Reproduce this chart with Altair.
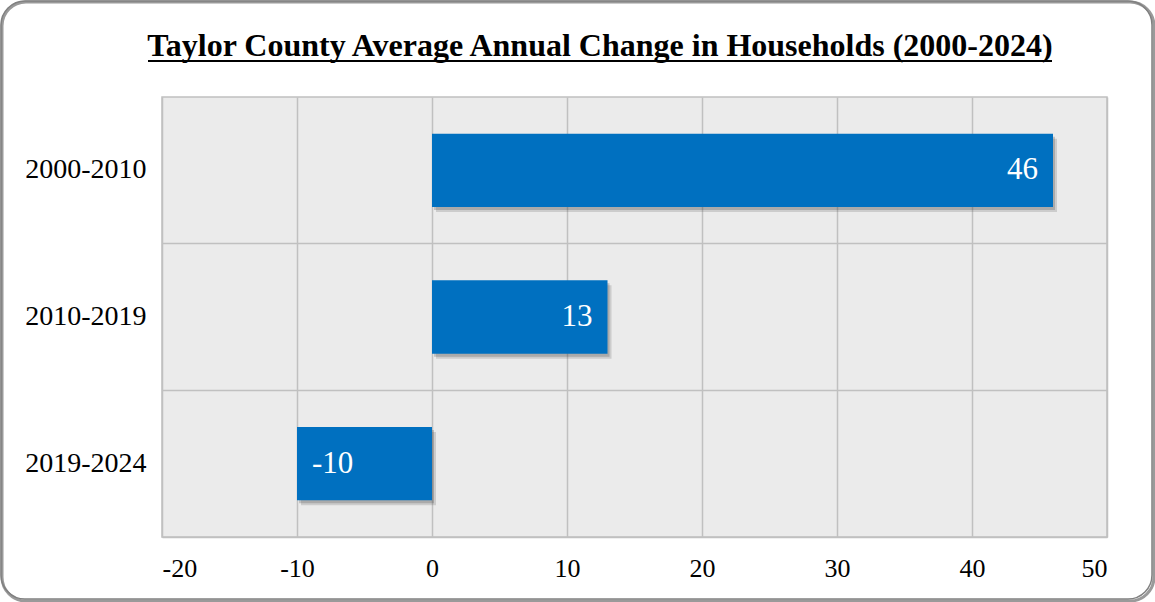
import altair as alt
import pandas as pd

periods = ["2000-2010", "2010-2019", "2019-2024"]
values = [46, 13, -10]
title_text = "Taylor County Average Annual Change in Households (2000-2024)"

df = pd.DataFrame({"period": periods, "value": values})
df["label"] = df["value"].astype(str)

W, H = 945, 440
FONT = "Liberation Serif"

x_enc = alt.X("value:Q", scale=alt.Scale(domain=[-20, 50], nice=False),
              axis=alt.Axis(values=list(range(-20, 51, 10)), title=None, grid=True,
                            gridColor="#c0c0c0", gridWidth=1.5, domain=False, ticks=False,
                            labelExpr="'' + datum.value",
                            labelFont=FONT, labelFontSize=26, labelColor="#000000",
                            labelPadding=18))
y_enc = alt.Y("period:N", sort=periods,
              scale=alt.Scale(paddingInner=0.5, paddingOuter=0.25),
              axis=alt.Axis(title=None, grid=True, bandPosition=1.5, gridColor="#c0c0c0",
                            gridWidth=1.5, domain=False, ticks=False,
                            labelFont=FONT, labelFontSize=28, labelColor="#000000",
                            labelPadding=16))

base = alt.Chart(df)

shadow1 = base.mark_bar(color="#444444", opacity=0.18, xOffset=4, yOffset=5).encode(
    x=x_enc, y=y_enc)
shadow2 = base.mark_bar(color="#444444", opacity=0.25, xOffset=2, yOffset=3).encode(
    x=x_enc, y=y_enc)
bars = base.mark_bar(color="#0070c0").encode(x=x_enc, y=y_enc)

pos_text = base.transform_filter("datum.value >= 0").mark_text(
    align="right", baseline="middle", dx=-15, color="white", font=FONT, fontSize=31
).encode(x="value:Q", y=alt.Y("period:N", sort=periods), text="label:N")
neg_text = base.transform_filter("datum.value < 0").mark_text(
    align="left", baseline="middle", dx=15, color="white", font=FONT, fontSize=31
).encode(x="value:Q", y=alt.Y("period:N", sort=periods), text="label:N")

title_df = pd.DataFrame({"t": [title_text]})
title = alt.Chart(title_df).mark_text(
    align="center", baseline="alphabetic", font=FONT, fontSize=32, fontWeight="bold",
    color="#000000"
).encode(x=alt.value(600 - 162), y=alt.value(56 - 97), text="t:N")
underline = alt.Chart(title_df).mark_rule(color="#000000", strokeWidth=2).encode(
    x=alt.value(148 - 162), x2=alt.value(1052 - 162), y=alt.value(61 - 97))

frame_shadow = alt.Chart(title_df).mark_rect(
    cornerRadius=24, fillOpacity=0, stroke="#9a9a9a", strokeWidth=3
).encode(x=alt.value(-160), x2=alt.value(W + 47), y=alt.value(-95), y2=alt.value(H + 64))
frame = alt.Chart(title_df).mark_rect(
    cornerRadius=24, fillOpacity=0, stroke="#808080", strokeWidth=1.5
).encode(x=alt.value(-161), x2=alt.value(W + 45), y=alt.value(-96), y2=alt.value(H + 62))

chart = alt.layer(frame_shadow, frame, shadow1, shadow2, bars, pos_text, neg_text, title, underline).properties(
    width=W, height=H,
    autosize=alt.AutoSizeParams(type="none"),
    padding={"left": 162, "top": 97, "right": 48, "bottom": 65},
    background="white",
).configure_view(fill="#ebebeb", stroke="#c0c0c0", strokeWidth=1.5)

chart.save("out.html", embed_options={"renderer": "svg", "actions": False})
